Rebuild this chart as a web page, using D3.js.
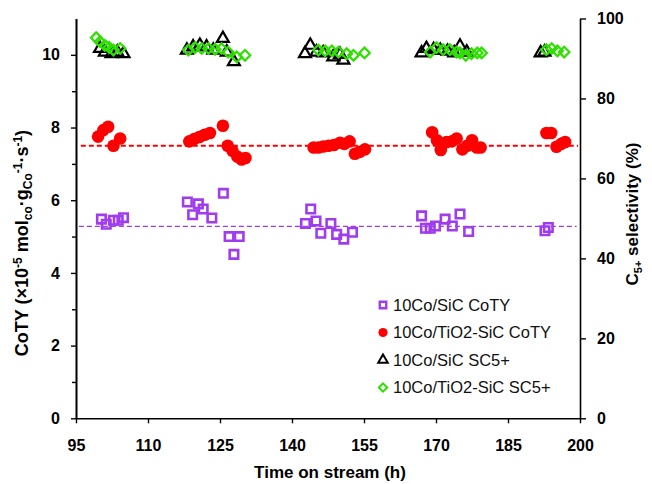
<!DOCTYPE html>
<html>
<head>
<meta charset="utf-8">
<script src="https://cdn.jsdelivr.net/npm/d3@7"></script>
<style>
  html, body { margin: 0; padding: 0; background: #fff; }
  svg { display: block; font-family: "Liberation Sans", Arial, Helvetica, sans-serif; }
</style>
</head>
<body>
<svg id="chart" width="652" height="484"></svg>
<script>
// Time on stream (h) and cobalt time yield, 10Co/SiC
const sicTime = [100.3, 101.3, 102.8, 103.8, 104.9, 118.2, 119.3, 120.5, 121.5, 123.3, 125.7, 126.9, 127.9, 129.0,
  142.8, 143.9, 145.0, 146.0, 148.1, 149.3, 150.8, 152.6, 167.0, 167.8, 168.8, 169.9, 171.9, 173.4, 175.0, 176.8, 192.7, 193.4];
const sicCoty = [5.48, 5.34, 5.45, 5.45, 5.52, 5.95, 5.60, 5.90, 5.76, 5.51, 6.19, 5.00, 4.51, 5.00,
  5.36, 5.76, 5.43, 5.09, 5.36, 5.06, 4.93, 5.12, 5.57, 5.23, 5.23, 5.29, 5.48, 5.29, 5.62, 5.14, 5.16, 5.25];

// Cobalt time yield, 10Co/TiO2-SiC
const tioTime = [99.6, 100.7, 101.7, 102.8, 104.2, 118.6, 119.6, 120.7, 121.8, 122.9, 125.6, 126.6, 127.6, 128.6, 129.5, 130.3,
  144.5, 145.5, 146.5, 147.6, 148.7, 150.0, 150.9, 152.0, 153.1, 154.1, 155.2,
  169.2, 170.2, 171.0, 172.2, 173.3, 174.3, 175.5, 176.5, 177.5, 178.5, 179.3, 193.0, 194.0, 195.1, 196.1, 196.9];
const tioCoty = [7.75, 7.93, 8.02, 7.50, 7.70, 7.62, 7.68, 7.74, 7.80, 7.85, 8.05, 7.50, 7.36, 7.20, 7.12, 7.16,
  7.45, 7.45, 7.48, 7.50, 7.52, 7.58, 7.55, 7.62, 7.28, 7.33, 7.40,
  7.87, 7.65, 7.38, 7.60, 7.62, 7.70, 7.40, 7.50, 7.65, 7.45, 7.45, 7.85, 7.85, 7.47, 7.55, 7.60];

// C5+ selectivity (%), 10Co/SiC
const sicSelTime = [100.0, 101.0, 102.4, 103.6, 104.9, 118.1, 119.4, 120.8, 122.2, 123.6, 125.6, 126.4, 127.9,
  142.7, 143.8, 145.1, 146.5, 148.6, 150.0, 150.7, 167.0, 168.0, 169.5, 170.9, 172.4, 173.8, 175.0, 176.4, 191.8, 192.6];
const sicSel = [92.5, 91.6, 91.2, 91.6, 91.2, 92.1, 92.9, 93.3, 92.9, 92.1, 95.0, 91.6, 89.2,
  91.2, 93.3, 91.6, 91.4, 90.4, 91.0, 89.6, 91.4, 92.5, 92.2, 92.0, 91.8, 91.4, 93.1, 91.6, 91.4, 91.6];

// C5+ selectivity (%), 10Co/TiO2-SiC
const tioSelTime = [99.2, 100.0, 101.0, 101.9, 102.8, 104.2, 118.4, 119.8, 121.2, 122.6, 124.0, 125.3, 126.7, 128.5, 130.2,
  145.5, 146.9, 148.3, 149.7, 151.4, 152.8, 155.1, 168.8, 170.1, 171.5, 172.9, 174.3, 175.0, 176.2, 177.4, 178.6, 179.5,
  193.0, 194.1, 195.3, 196.7];
const tioSel = [95.2, 94.2, 93.3, 92.8, 92.1, 92.5, 92.1, 92.7, 92.5, 92.5, 92.3, 92.5, 91.6, 90.4, 90.8,
  92.1, 91.9, 91.9, 91.6, 91.2, 90.8, 91.4, 91.6, 92.7, 92.2, 92.2, 91.6, 91.4, 90.8, 91.2, 91.4, 91.4,
  92.2, 92.5, 91.9, 91.6];

// Average CoTY reference lines
const avgTio = 7.5;
const avgSic = 5.28;

const xTicks = [95, 110, 125, 140, 155, 170, 185, 200];
const yLeftTicks = [0, 2, 4, 6, 8, 10];
const yLeftMinor = [1, 3, 5, 7, 9];
const yRightTicks = [0, 20, 40, 60, 80, 100];

const legendLabels = ["10Co/SiC CoTY", "10Co/TiO2-SiC CoTY", "10Co/SiC SC5+", "10Co/TiO2-SiC SC5+"];

const PURPLE = "#a03cf0", RED = "#ff0000", GREEN = "#2ee000", BLACK = "#000";

const svg = d3.select("#chart");
const plotLeft = 76, plotRight = 580, plotTop = 18.5, plotBottom = 418.3;

const x = d3.scaleLinear().domain([95, 200]).range([plotLeft, plotRight]);
const yL = d3.scaleLinear().domain([0, 11]).range([plotBottom, plotTop]);
const yR = d3.scaleLinear().domain([0, 100]).range([plotBottom, plotTop]);

// Axes
function styleAxis(g) {
  g.select(".domain").attr("stroke", BLACK).attr("stroke-width", 1.6);
  g.selectAll(".tick line").attr("stroke", BLACK).attr("stroke-width", 1.4);
  g.selectAll(".tick text").attr("fill", BLACK).attr("font-weight", "bold").attr("font-size", 16)
    .attr("font-family", "'Liberation Sans', Arial, sans-serif");
}

svg.append("g").attr("transform", `translate(0,${plotBottom})`)
  .call(d3.axisBottom(x).tickValues(xTicks).tickSize(5).tickPadding(16).tickSizeOuter(0))
  .call(styleAxis);

svg.append("g").attr("transform", `translate(${plotLeft},0)`)
  .call(d3.axisLeft(yL).tickValues(yLeftMinor).tickSize(4).tickFormat("").tickSizeOuter(0))
  .call(styleAxis);
svg.append("g").attr("transform", `translate(${plotLeft},0)`)
  .call(d3.axisLeft(yL).tickValues(yLeftTicks).tickSize(5).tickPadding(11).tickSizeOuter(0))
  .call(styleAxis);

svg.append("g").attr("transform", `translate(${plotRight},0)`)
  .call(d3.axisRight(yR).tickValues(yRightTicks).tickSize(6).tickPadding(11).tickSizeOuter(0))
  .call(styleAxis);

// Axis titles
svg.append("text")
  .attr("x", 330).attr("y", 478)
  .attr("text-anchor", "middle").attr("font-weight", "bold").attr("font-size", 17)
  .text("Time on stream (h)");

const lt = svg.append("text")
  .attr("transform", "translate(28,243) rotate(-90)")
  .attr("text-anchor", "middle").attr("font-weight", "bold").attr("font-size", 18);
lt.append("tspan").text("CoTY (\u00D710");
lt.append("tspan").attr("dy", -6).attr("font-size", 12).text("-5");
lt.append("tspan").attr("dy", 6).text(" mol");
lt.append("tspan").attr("dy", 4).attr("font-size", 12).text("co");
lt.append("tspan").attr("dy", -4).text("\u00B7g");
lt.append("tspan").attr("dy", 4).attr("font-size", 12).text("Co");
lt.append("tspan").attr("dy", -10).attr("font-size", 12).text("-1");
lt.append("tspan").attr("dy", 6).text("\u00B7s");
lt.append("tspan").attr("dy", -6).attr("font-size", 12).text("-1");
lt.append("tspan").attr("dy", 6).text(")");

const rt = svg.append("text")
  .attr("transform", "translate(638,214) rotate(-90)")
  .attr("text-anchor", "middle").attr("font-weight", "bold").attr("font-size", 17);
rt.append("tspan").text("C");
rt.append("tspan").attr("dy", 4).attr("font-size", 11).text("5+");
rt.append("tspan").attr("dy", -4).text(" selectivity (%)");

// Average reference lines
svg.append("line")
  .attr("x1", x(95.6)).attr("x2", x(199.3)).attr("y1", yL(avgSic)).attr("y2", yL(avgSic))
  .attr("stroke", PURPLE).attr("stroke-width", 1.4).attr("stroke-dasharray", "5,3");
svg.append("line")
  .attr("x1", x(96)).attr("x2", x(199.6)).attr("y1", yL(avgTio)).attr("y2", yL(avgTio))
  .attr("stroke", RED).attr("stroke-width", 2).attr("stroke-dasharray", "5,3");

// Marker shapes
const sqSym = d3.symbol().type(d3.symbolSquare).size(72);
const triSym = d3.symbol().type(d3.symbolTriangle).size(62);
const diaSym = d3.symbol().type(d3.symbolSquare).size(56);

// 10Co/SiC CoTY: open squares
svg.append("g").selectAll("path").data(d3.zip(sicTime, sicCoty)).join("path")
  .attr("d", sqSym)
  .attr("transform", d => `translate(${x(d[0])},${yL(d[1])})`)
  .attr("fill", "none").attr("stroke", PURPLE).attr("stroke-width", 2.6);

// 10Co/TiO2-SiC CoTY: filled circles
svg.append("g").selectAll("circle").data(d3.zip(tioTime, tioCoty)).join("circle")
  .attr("cx", d => x(d[0])).attr("cy", d => yL(d[1])).attr("r", 6.3)
  .attr("fill", RED);

// 10Co/SiC SC5+: open triangles
svg.append("g").selectAll("path").data(d3.zip(sicSelTime, sicSel)).join("path")
  .attr("d", triSym)
  .attr("transform", d => `translate(${x(d[0])},${yR(d[1])})`)
  .attr("fill", "none").attr("stroke", BLACK).attr("stroke-width", 2.2);

// 10Co/TiO2-SiC SC5+: open diamonds
svg.append("g").selectAll("path").data(d3.zip(tioSelTime, tioSel)).join("path")
  .attr("d", diaSym)
  .attr("transform", d => `translate(${x(d[0])},${yR(d[1])}) rotate(45)`)
  .attr("fill", "none").attr("stroke", GREEN).attr("stroke-width", 2.2);

// Legend
const legend = svg.append("g").attr("transform", "translate(383,305)");
const rowGap = 27.5;
legendLabels.forEach((label, i) => {
  const g = legend.append("g").attr("transform", `translate(0,${i * rowGap})`);
  if (i === 0) {
    g.append("path").attr("d", d3.symbol().type(d3.symbolSquare).size(42))
      .attr("fill", "none").attr("stroke", PURPLE).attr("stroke-width", 2.4);
  } else if (i === 1) {
    g.append("circle").attr("r", 4.6).attr("fill", RED);
  } else if (i === 2) {
    g.append("path").attr("d", d3.symbol().type(d3.symbolTriangle).size(40))
      .attr("fill", "none").attr("stroke", BLACK).attr("stroke-width", 2);
  } else {
    g.append("path").attr("d", d3.symbol().type(d3.symbolSquare).size(34))
      .attr("transform", "rotate(45)")
      .attr("fill", "none").attr("stroke", GREEN).attr("stroke-width", 2);
  }
  g.append("text").attr("x", 10).attr("y", 0).attr("dy", "0.35em")
    .attr("font-size", 16.5).attr("fill", "#111").text(label);
});
</script>
</body>
</html>
